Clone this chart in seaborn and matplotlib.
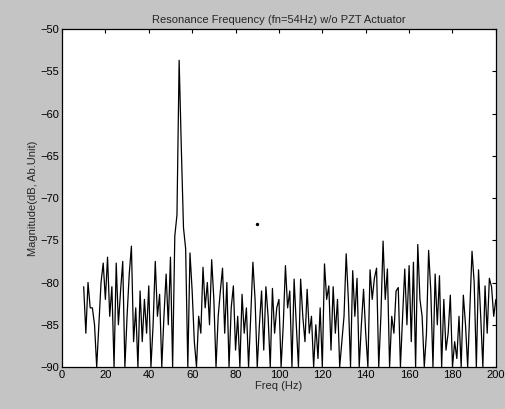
import numpy as np
import pandas as pd
import matplotlib
matplotlib.use('Agg')
import matplotlib.pyplot as plt
import seaborn as sns

# spectrum, 1 Hz steps from 10 to 200 Hz
freq = list(range(10, 201))
mag = [
    -80.5, -86, -80, -83, -83, -85, -90, -85, -80, -77.7,
    -82, -77, -84, -80.5, -90, -77.7, -85, -81, -77.5, -90,
    -84, -79, -75.7, -87, -83, -90, -81, -87, -82, -86,
    -80.4, -90, -85, -77.5, -84, -81.4, -90, -84, -79, -85,
    -77, -90, -74.5, -72, -53.7, -64, -73.5, -76, -90, -76.5,
    -81, -87, -90, -84, -86, -78.2, -83, -80, -85, -77.3,
    -82, -90, -84, -81, -78.3, -86, -80, -90, -83, -80.4,
    -88, -84, -90, -81.4, -86, -83, -90, -84, -77.6, -82,
    -90, -85, -81, -88, -80.5, -84, -90, -80.7, -86, -83,
    -82, -90, -85, -78, -83, -81, -90, -79.6, -85, -90,
    -79.6, -84, -87, -80.8, -86, -84, -90, -85, -89, -83,
    -90, -77.8, -82, -80.4, -88, -80.5, -86, -82, -90, -87,
    -84, -76.6, -82, -90, -78.6, -84, -79.5, -90, -85, -80.8,
    -86, -90, -78.5, -82, -79.5, -78.3, -90, -84, -75.1, -82,
    -78.4, -90, -84, -86, -81, -80.6, -90, -84, -78.4, -85,
    -78, -87, -77.6, -90, -75.5, -82, -84, -90, -86, -76.2,
    -81, -90, -79, -85, -79.2, -90, -82, -88, -86, -81.5,
    -90, -87, -89, -84, -90, -81.5, -85, -90, -83, -76.3,
    -80, -90, -78.5, -84, -90, -80.4, -86, -79.5, -80.5, -84,
    -82,
]
# stray dot in the scan
dot_f = [90]
dot_m = [-73.1]

xticks = list(range(0, 201, 20))
yticks = list(range(-90, -49, 5))

title = 'Resonance Frequency (fn=54Hz) w/o PZT Actuator'
xlab = 'Freq (Hz)'
ylab = 'Magnitude(dB, Ab.Unit)'

df = pd.DataFrame({'freq': freq, 'mag': mag})

sns.set_style('white')
plt.rcParams['font.family'] = ['Liberation Sans', 'DejaVu Sans']

fig = plt.figure(figsize=(5.06, 4.09), dpi=100, facecolor='#c4c4c4')
ax = fig.add_axes([0.1225, 0.1027, 0.8575, 0.8263])
ax.set_facecolor('white')

sns.lineplot(data=df, x='freq', y='mag', color='black', linewidth=0.9, ax=ax)
ax.scatter(dot_f, dot_m, s=2, color='black')

ax.set_xlim(0, 200)
ax.set_ylim(-90, -50)
ax.set_xticks(xticks)
ax.set_yticks(yticks)
ax.tick_params(direction='in', length=3, width=0.8, labelsize=8, colors='black',
               top=True, right=True, pad=2)
for s in ax.spines.values():
    s.set_color('black')
    s.set_linewidth(0.9)

ax.set_title(title, fontsize=8, pad=4)
ax.set_xlabel(xlab, fontsize=8, labelpad=1)
ax.set_ylabel(ylab, fontsize=8, labelpad=2)

fig.savefig('out.png', dpi=100, facecolor=fig.get_facecolor())
